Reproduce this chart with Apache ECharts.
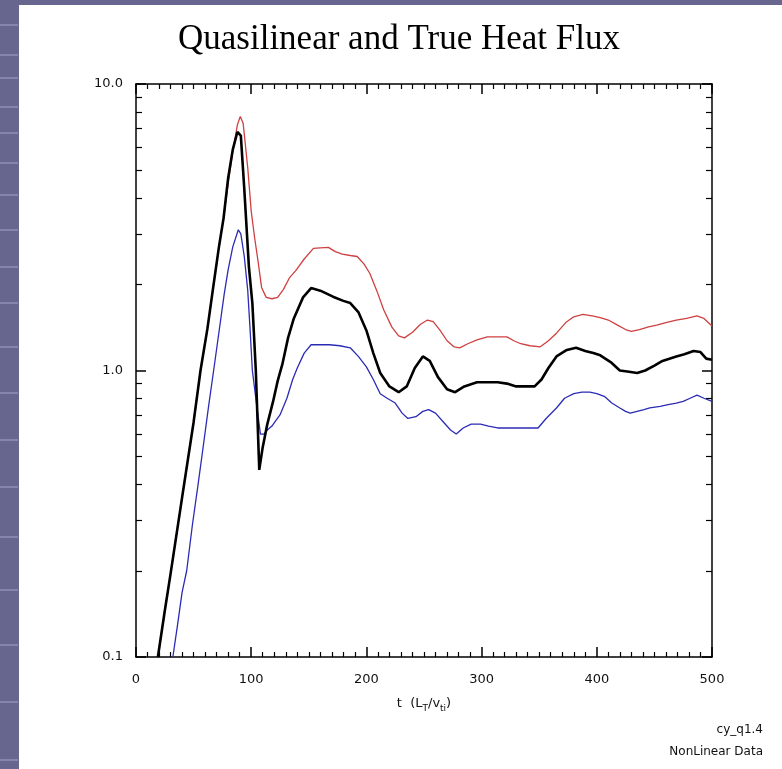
<!DOCTYPE html>
<html>
<head>
<meta charset="utf-8">
<script src="https://cdn.jsdelivr.net/npm/echarts@6/dist/echarts.min.js"></script>
<style>
  html, body { margin: 0; padding: 0; background: #66668f; }
  #chart { width: 782px; height: 769px; }
</style>
</head>
<body>
<div id="chart"></div>
<script>
// ---- Data ----
const chartTitle = 'Quasilinear and True Heat Flux';
const xTickValues = [0, 100, 200, 300, 400, 500];
const yMajorTicks = [0.1, 1, 10];
const yMinorTicks = [0.2, 0.3, 0.4, 0.5, 0.6, 0.7, 0.8, 0.9, 2, 3, 4, 5, 6, 7, 8, 9];
const footNotes = ['cy_q1.4', 'NonLinear Data'];

const redT = [19, 25, 30, 40, 50, 56, 62, 67, 72, 76, 80, 84, 88, 90.5, 93, 97, 100, 103, 106, 109, 113, 118, 123, 128, 133, 139, 146, 154, 160, 167, 173, 179, 186, 192, 198, 203, 209, 215, 222, 228, 233, 240, 247, 253, 258, 264, 270, 276, 281, 288, 296, 305, 314, 322, 328, 334, 342, 351, 358, 365, 373, 380, 388, 396, 403, 410, 418, 425, 430, 437, 445, 452, 460, 469, 478, 487, 493, 500];
const redV = [0.1, 0.145, 0.195, 0.36, 0.66, 1.0, 1.4, 1.95, 2.7, 3.4, 4.5, 5.8, 7.2, 7.7, 7.3, 5.1, 3.6, 2.9, 2.4, 1.95, 1.8, 1.78, 1.8, 1.92, 2.1, 2.24, 2.45, 2.67, 2.68, 2.69, 2.6, 2.55, 2.52, 2.5, 2.35, 2.18, 1.9, 1.63, 1.42, 1.32, 1.3, 1.36, 1.45, 1.5, 1.48, 1.38, 1.27, 1.21, 1.2, 1.24, 1.28, 1.31, 1.31, 1.31, 1.27, 1.24, 1.22, 1.21, 1.27, 1.35, 1.47, 1.54, 1.57, 1.55, 1.53, 1.5, 1.44, 1.39, 1.37, 1.39, 1.42, 1.44, 1.47, 1.5, 1.52, 1.55, 1.52, 1.43];

const blackT = [19, 25, 30, 40, 50, 56, 62, 67, 72, 76, 80, 84, 88, 91, 94, 98, 101, 104, 107, 110, 114, 119, 123, 127, 132, 137, 145, 152, 160, 171, 180, 186, 193, 200, 206, 212, 220, 228, 235, 242, 249, 255, 262, 270, 277, 285, 296, 305, 314, 322, 330, 338, 346, 352, 358, 365, 374, 382, 390, 397, 403, 412, 420, 428, 435, 442, 450, 457, 463, 469, 476, 484, 490, 495, 500];
const blackV = [0.1, 0.145, 0.195, 0.36, 0.66, 1.0, 1.4, 1.95, 2.7, 3.4, 4.7, 5.9, 6.8, 6.6, 4.3, 2.3, 1.72, 1.0, 0.45, 0.54, 0.65, 0.78, 0.92, 1.05, 1.3, 1.52, 1.8, 1.94, 1.9, 1.81, 1.75, 1.72, 1.6, 1.38, 1.15, 0.98, 0.88, 0.84, 0.88, 1.02, 1.12, 1.08, 0.95, 0.86, 0.84, 0.88, 0.91, 0.91, 0.91, 0.9, 0.88, 0.88, 0.88, 0.93, 1.02, 1.12, 1.18, 1.2, 1.17, 1.15, 1.13, 1.07, 1.0, 0.99, 0.98, 1.0, 1.04, 1.08, 1.1, 1.12, 1.14, 1.17, 1.16, 1.1, 1.09];

const blueT = [32, 36, 40, 44, 49, 53.5, 58, 63, 67.4, 72, 76.6, 80, 84, 88.8, 91, 94, 97, 99, 101, 104, 108, 111, 114, 118, 121.5, 125, 131, 136, 140, 146, 152, 160, 168, 177, 186, 193, 200, 206, 212, 218, 225, 231, 236, 243, 249, 254, 260, 267, 273, 278, 284, 291, 299, 306, 314, 322, 330, 340, 349, 356, 365, 372, 380, 387, 394, 400, 407, 413, 420, 425, 429, 435, 441, 446, 455, 462, 469, 475, 481, 487, 493, 500];
const blueV = [0.1, 0.129, 0.168, 0.2, 0.29, 0.39, 0.53, 0.75, 1.0, 1.36, 1.85, 2.25, 2.7, 3.1, 3.0, 2.5, 1.9, 1.4, 1.0, 0.8, 0.6, 0.6, 0.62, 0.64, 0.67, 0.7, 0.8, 0.93, 1.02, 1.15, 1.23, 1.23, 1.23, 1.22, 1.2, 1.12, 1.03, 0.93, 0.83, 0.8, 0.77, 0.71, 0.68, 0.69, 0.72, 0.73, 0.71, 0.66, 0.62, 0.6, 0.63, 0.65, 0.65, 0.64, 0.63, 0.63, 0.63, 0.63, 0.63, 0.68, 0.74, 0.8, 0.83, 0.84, 0.84, 0.83, 0.81, 0.77, 0.74, 0.72, 0.71, 0.72, 0.73, 0.74, 0.75, 0.76, 0.77, 0.78, 0.8, 0.82, 0.8, 0.78];

// ---- Helpers ----
function pairs(ts, vs) { return ts.map((t, i) => [t, vs[i]]); }

const stripeY = [25, 55, 78, 107, 133, 163, 195, 230, 267, 303, 347, 393, 440, 487, 537, 590, 645, 702, 760];

const axisFont = { fontFamily: 'DejaVu Sans', fontSize: 13, color: '#111' };

const chart = echarts.init(document.getElementById('chart'), null, { renderer: 'canvas' });

const graphics = [
  { type: 'rect', z: -100, shape: { x: 0, y: 0, width: 782, height: 769 }, style: { fill: '#66668f' }, silent: true },
  { type: 'rect', z: -99, shape: { x: 19, y: 5, width: 763, height: 764 }, style: { fill: '#ffffff' }, silent: true },
  {
    type: 'text', z: 10, x: 399, y: 40,
    style: { text: chartTitle, font: '35px "Liberation Serif", "Times New Roman", serif', fill: '#000', align: 'center', verticalAlign: 'middle' }
  },
  {
    type: 'text', z: 10, x: 763, y: 730,
    style: { text: footNotes[0], font: '12px "DejaVu Sans"', fill: '#111', align: 'right', verticalAlign: 'middle' }
  },
  {
    type: 'text', z: 10, x: 763, y: 752,
    style: { text: footNotes[1], font: '12px "DejaVu Sans"', fill: '#111', align: 'right', verticalAlign: 'middle' }
  }
];
stripeY.forEach(y => graphics.push({
  type: 'line', z: -98, silent: true,
  shape: { x1: 0, y1: y, x2: 18, y2: y },
  style: { stroke: '#8585b0', lineWidth: 2 }
}));

const option = {
  animation: false,
  backgroundColor: '#ffffff',
  graphic: graphics,
  grid: { left: 136, top: 84, right: 70, bottom: 112, containLabel: false },
  xAxis: [
    {
      type: 'value', position: 'bottom', min: 0, max: 500, interval: 100,
      axisLine: { show: true, lineStyle: { color: '#000', width: 1.5 } },
      axisTick: { show: true, inside: true, length: 10, lineStyle: { color: '#000', width: 1.5 } },
      minorTick: { show: true, splitNumber: 10, length: 5, lineStyle: { color: '#000', width: 1.2 } },
      axisLabel: { show: true, margin: 16, ...axisFont, customValues: xTickValues },
      splitLine: { show: false },
      name: '{a|t  (L}{s|T}{a|/v}{s|ti}{a|)}',
      nameLocation: 'middle', nameGap: 38,
      nameTextStyle: {
        rich: {
          a: { fontFamily: 'DejaVu Sans', fontSize: 13, color: '#111', lineHeight: 18 },
          s: { fontFamily: 'DejaVu Sans', fontSize: 9, color: '#111', lineHeight: 18, padding: [10, 0, 0, 0] }
        }
      }
    },
    {
      type: 'value', position: 'top', min: 0, max: 500, interval: 100,
      axisLine: { show: true, lineStyle: { color: '#000', width: 1.5 } },
      axisTick: { show: true, inside: true, length: 10, lineStyle: { color: '#000', width: 1.5 } },
      minorTick: { show: true, splitNumber: 10, length: 5, lineStyle: { color: '#000', width: 1.2 } },
      axisLabel: { show: false },
      splitLine: { show: false }
    }
  ],
  yAxis: [
    {
      type: 'log', logBase: 10, min: 0.1, max: 10, position: 'left',
      axisLine: { show: true, lineStyle: { color: '#000', width: 1.5 } },
      axisTick: { show: true, inside: true, length: 10, customValues: yMajorTicks, lineStyle: { color: '#000', width: 1.5 } },
      axisLabel: { show: true, margin: 13, ...axisFont, customValues: yMajorTicks, formatter: v => Number(v).toFixed(1) },
      splitLine: { show: false }, minorTick: { show: false }
    },
    {
      type: 'log', logBase: 10, min: 0.1, max: 10, position: 'left',
      axisLine: { show: false },
      axisTick: { show: true, inside: true, length: 6, customValues: yMinorTicks, lineStyle: { color: '#000', width: 1.2 } },
      axisLabel: { show: false },
      splitLine: { show: false }
    },
    {
      type: 'log', logBase: 10, min: 0.1, max: 10, position: 'right',
      axisLine: { show: true, lineStyle: { color: '#000', width: 1.5 } },
      axisTick: { show: true, inside: true, length: 10, customValues: yMajorTicks, lineStyle: { color: '#000', width: 1.5 } },
      axisLabel: { show: false },
      splitLine: { show: false }
    },
    {
      type: 'log', logBase: 10, min: 0.1, max: 10, position: 'right',
      axisLine: { show: false },
      axisTick: { show: true, inside: true, length: 6, customValues: yMinorTicks, lineStyle: { color: '#000', width: 1.2 } },
      axisLabel: { show: false },
      splitLine: { show: false }
    }
  ],
  series: [
    { name: 'red', type: 'line', xAxisIndex: 0, yAxisIndex: 0, showSymbol: false, data: pairs(redT, redV),
      lineStyle: { color: '#cf4040', width: 1.3 }, z: 3 },
    { name: 'blue', type: 'line', xAxisIndex: 0, yAxisIndex: 0, showSymbol: false, data: pairs(blueT, blueV),
      lineStyle: { color: '#2b2bb5', width: 1.3 }, z: 3 },
    { name: 'black', type: 'line', xAxisIndex: 0, yAxisIndex: 0, showSymbol: false, data: pairs(blackT, blackV),
      lineStyle: { color: '#000000', width: 2.6 }, z: 4 }
  ]
};
chart.setOption(option);
</script>
</body>
</html>
